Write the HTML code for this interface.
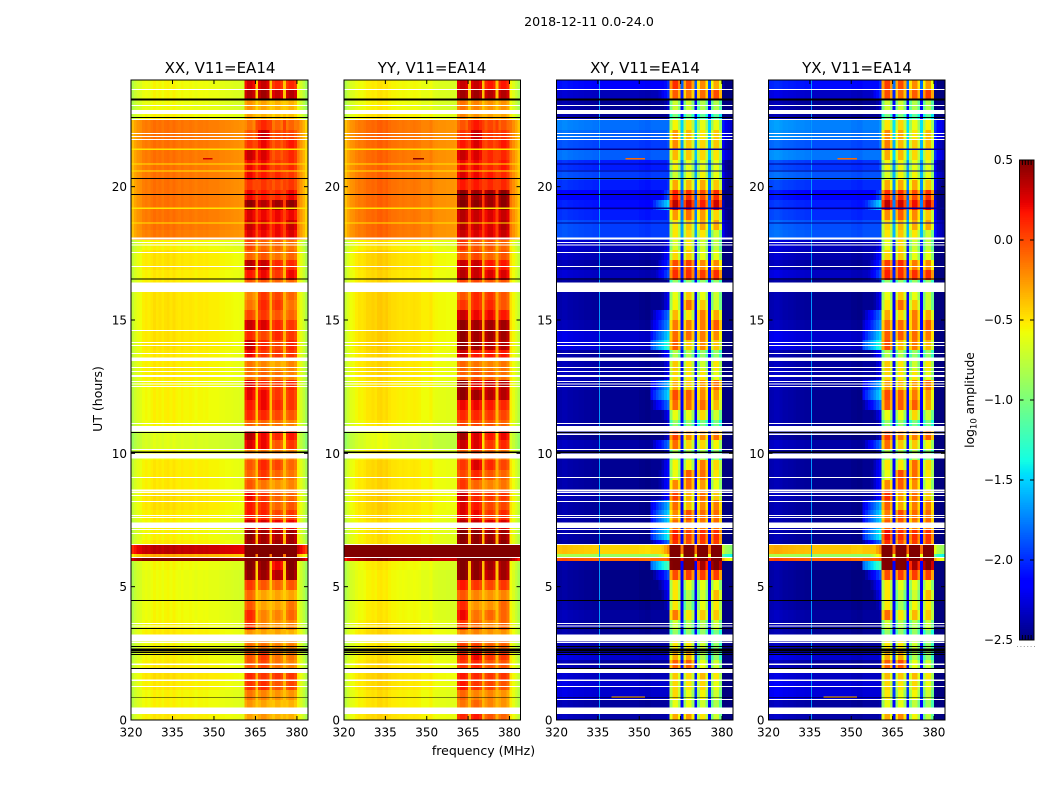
<!DOCTYPE html>
<html lang="en">
<head>
<meta charset="utf-8">
<title>2018-12-11 0.0-24.0</title>
<style>
html,body{margin:0;padding:0;background:#fff;}
svg{display:block;font-family:"DejaVu Sans","Liberation Sans",sans-serif;fill:#000;}
.cell,.cb{shape-rendering:crispEdges;}
</style>
</head>
<body>
<svg id="chart" width="1050" height="800" viewBox="0 0 1050 800" xmlns="http://www.w3.org/2000/svg">
  <rect width="1050" height="800" fill="#fff"/>
  <text x="589" y="26" text-anchor="middle" font-size="12.6">2018-12-11 0.0-24.0</text>
  <text x="220" y="73" text-anchor="middle" font-size="15">XX, V11=EA14</text>
  <text x="432" y="73" text-anchor="middle" font-size="15">YY, V11=EA14</text>
  <text x="645" y="73" text-anchor="middle" font-size="15">XY, V11=EA14</text>
  <text x="857" y="73" text-anchor="middle" font-size="15">YX, V11=EA14</text>
  <text x="483.5" y="755" text-anchor="middle" font-size="12.5">frequency (MHz)</text>
  <text transform="translate(102,399) rotate(-90)" text-anchor="middle" font-size="12.5">UT (hours)</text>
  <text transform="translate(974,400) rotate(-90)" text-anchor="middle" font-size="12.3">log<tspan font-size="8.5" dy="2.5">10</tspan><tspan dy="-2.5"> amplitude</tspan></text>
  <g id="panels"></g>
  <g id="colorbar"></g>
  <line x1="1017" x2="1035" y1="646.5" y2="646.5" stroke="#999" stroke-width="1" stroke-dasharray="1 2.4"/>
</svg>
<script>
// ---- axis data ----
const freqTicks = [320, 335, 350, 365, 380];
const hourTicks = [0, 5, 10, 15, 20];
const colorTicks = [0.5, 0, -0.5, -1, -1.5, -2, -2.5];
const colorTickLabels = ['0.5', '0.0', '\u22120.5', '\u22121.0', '\u22121.5', '\u22122.0', '\u22122.5'];
const colorMinorTicks = [1, 2, 3, 4];
const freqMin = 320, freqMax = 384, hourMin = 0, hourMax = 24, levelMin = -2.5, levelMax = 0.5;

// ---- time rows: start hour of each row ----
const rowStartHours = [0,.375,.75,1.125,1.5,1.875,2.25,2.625,3,3.375,3.75,4.125,4.5,4.875,5.25,5.625,5.96,6.11,6.225,6.6,
 6.75,7.125,7.5,7.875,8.25,8.625,9,9.375,9.75,10.125,10.5,10.875,11.25,11.625,12,12.375,12.75,13.125,13.5,13.875,
 14.25,14.625,15,15.375,15.75,16.125,16.5,16.875,17.25,17.625,18,18.375,18.75,19.125,19.5,19.875,20.25,20.625,21,21.375,
 21.75,22.125,22.5,22.875,23.25,23.625];

// ---- channel groups (1 MHz channels from 320): 0 continuum, 1-4 sub-band, 5 near-band edge ----
const channelGroup = [0,0,0,0,0,0,0,0,0,0,0,0,0,0,0,0,0,0,0,0,0,0,0,0,0,0,0,0,0,0,0,0,0,0,5,5,5,5,5,5,5,
 1,1,1,1,0,2,2,2,2,0,3,3,3,3,0,4,4,4,4,0,0,0,0];

// ---- per-channel offsets read from the bandpass ----
const xxShape = [-.2,-.12,-.07,-.05,0,.02,0,.03,.06,.03,.05,.02,.05,.06,.03,.06,.03,.02,.04,.02,.02,.03,.02,0,.02,.02,.01,.02,0,0,0,0,-.02,-.02,-.03,-.03,-.04,-.05,-.05,-.06,-.07,
 -.06,.02,.02,-.05,.18,-.05,.02,.02,-.05,.2,-.05,.02,.02,-.05,.2,-.05,.02,.02,-.06,.02,-.08,-.17,-.28];
const yyShape = [-.22,-.14,-.08,-.06,-.02,.01,0,.02,.05,.05,.07,.05,.09,.1,.07,.09,.05,.03,.03,.02,.01,.02,.01,0,.01,.02,.01,0,-.03,-.03,-.03,0,-.05,-.06,-.07,-.07,-.07,-.08,-.08,-.08,-.09,
 -.06,.02,.02,-.05,.2,-.05,.02,.02,-.05,.2,-.05,.02,.02,-.05,.2,-.05,.02,.02,-.06,.02,-.06,-.14,-.24];
const xyShape = [.06,.06,.08,.08,.06,.06,.05,.05,.04,.04,.03,.03,.03,.02,.02,0,0,0,0,0,0,0,0,0,0,0,0,0,0,0,-.02,-.02,-.03,-.03,-.6,-.5,-.4,-.3,-.2,-.1,0,
 -.32,0,0,-.28,.3,-.3,0,0,-.3,.3,-.3,0,0,-.3,.3,-.3,0,0,-.35,-.25,-.4,-.45,-.5];
const yxShape = [.07,.08,.1,.1,.08,.06,.06,.05,.05,.04,.03,.03,.03,.02,.02,0,0,0,0,0,0,0,0,0,0,0,0,0,0,0,-.02,-.02,-.03,-.03,-.6,-.5,-.4,-.3,-.2,-.1,0,
 -.32,0,0,-.28,.3,-.3,0,0,-.3,.3,-.3,0,0,-.3,.3,-.3,0,0,-.35,-.2,-.4,-.45,-.5];

// ---- XX levels per row ----
const xxCont = [-.55,-.58,-.58,-.55,-.52,-.55,-.58,-.6,-.55,-.58,
 -.6,-.6,-.62,-.62,-.62,-.6,.5,-.35,.3,-.55,
 -.58,-.58,-.55,-.52,-.52,-.55,-.55,-.55,-.6,-.68,
 -.68,-.6,-.58,-.58,-.58,-.58,-.55,-.55,-.55,-.53,
 -.53,-.53,-.53,-.53,-.53,-.55,-.55,-.53,-.53,-.58,
 -.19,-.17,-.17,-.17,-.17,-.17,-.17,-.17,-.17,-.17,
 -.17,-.17,-.58,-.62,-.6,-.6];
const xxBand1 = [-.3,-.25,-.15,.05,.1,-.05,-.05,-.15,-.25,.05,
 .1,-.05,-.1,.05,.45,.5,1,1,1,.4,
 .45,.3,.15,.15,.2,-.05,-.1,-.05,-.2,.25,
 .35,-.1,.1,.15,.22,.25,-.15,-.15,.2,.3,
 .1,.3,0,-.15,-.2,-.05,.15,.35,-.1,0,
 .25,.3,.25,.45,.2,.05,.2,.2,.3,.05,
 -.05,-.15,-.3,-.25,.35,.25];
const xxBand2 = [-.25,-.3,-.2,.08,.05,0,.05,-.15,-.3,-.2,
 -.2,-.3,-.3,-.05,.42,.45,1,1,1,.4,
 .4,.25,.12,.1,.05,-.15,.05,.1,-.15,.2,
 .2,-.1,.1,.2,.2,.1,-.1,-.2,.05,.1,
 0,.25,.05,.1,.05,-.05,.2,.3,-.05,-.1,
 .2,.25,.2,.35,.15,.05,.15,.2,.25,.2,
 .3,.1,-.35,-.3,.4,.3];
const xxBand3 = [-.35,-.35,-.25,-.05,.05,-.15,-.15,-.2,-.3,-.25,
 -.2,-.3,-.3,-.1,.35,.2,1,1,1,.4,
 .35,.2,0,-.1,-.1,-.25,-.1,0,-.2,-.05,
 .1,-.15,0,.1,.05,.05,-.15,-.3,.05,0,
 .1,.1,-.05,.05,0,-.1,.05,.1,-.15,-.1,
 .2,.2,.2,.4,.1,0,.1,.05,0,0,
 0,-.1,-.4,-.35,.3,.1];
const xxBand4 = [-.35,-.35,-.25,0,.05,-.2,-.15,-.2,-.35,-.2,
 -.1,-.15,-.3,-.05,.45,.5,1,1,1,.4,
 .4,.2,.05,-.05,-.1,-.2,-.15,-.1,-.2,.05,
 .15,-.2,-.05,.05,.05,.1,-.2,-.2,.05,.1,
 .05,.05,-.1,-.15,-.1,-.1,.2,.1,-.1,-.15,
 .25,.3,.2,.45,.2,.05,.05,.1,.1,.15,
 0,-.1,-.4,-.35,.35,.1];

// ---- YY levels per row ----
const yyCont = [-.52,-.55,-.55,-.52,-.5,-.52,-.55,-.58,-.52,-.55,
 -.58,-.58,-.6,-.6,-.6,-.58,.4,1,1,-.55,
 -.55,-.55,-.52,-.5,-.5,-.52,-.52,-.52,-.58,-.68,
 -.68,-.58,-.55,-.55,-.55,-.55,-.52,-.52,-.52,-.5,
 -.5,-.5,-.5,-.5,-.5,-.52,-.52,-.5,-.5,-.55,
 -.17,-.16,-.16,-.16,-.16,-.16,-.16,-.16,-.16,-.16,
 -.16,-.16,-.55,-.6,-.58,-.58];
const yyBand1 = [.1,-.15,-.1,.15,.15,.05,.1,0,-.2,.05,
 .2,.1,-.05,.15,.5,.5,1,1,1,.45,
 .5,.35,.25,.25,.3,.05,0,.05,-.1,.3,
 .4,0,.1,.2,.45,.45,-.1,-.1,.3,.45,
 .45,.45,.3,.05,-.05,0,.35,.3,-.05,.05,
 .3,.35,.35,.5,.45,.15,.25,.2,.3,.15,
 .05,-.05,-.2,-.15,.4,.3];
const yyBand2 = [.15,-.1,-.2,.05,.1,.1,.2,0,-.2,-.1,
 -.15,-.25,-.2,.05,.45,.45,1,1,1,.45,
 .45,.3,.2,.15,.1,-.1,.1,.25,0,.25,
 .25,0,.1,.2,.4,.25,-.05,-.15,.15,.4,
 .4,.4,.2,.1,.1,0,.3,.3,0,-.05,
 .25,.3,.3,.45,.4,.15,.2,.2,.25,.25,
 .3,.15,-.25,-.2,.4,.3];
const yyBand3 = [-.05,-.2,-.2,0,.05,-.05,.05,-.1,-.25,-.2,
 -.1,-.25,-.25,0,.35,.4,1,1,1,.45,
 .4,.25,.05,0,.05,-.2,-.05,.1,-.1,.05,
 .15,-.05,.05,.15,.35,.3,-.1,-.2,.15,.35,
 .4,.4,.2,.1,.05,-.05,.25,.15,-.1,-.05,
 .25,.25,.25,.4,.4,.1,.15,.1,.1,.05,
 .05,0,-.3,-.25,.35,.15];
const yyBand4 = [-.1,-.25,-.25,-.05,.05,-.05,.05,-.1,-.25,-.1,
 -.1,-.1,-.2,.05,.4,.4,1,1,1,.45,
 .4,.25,.1,0,.05,-.15,-.1,0,-.15,.1,
 .2,-.1,0,.1,.35,.35,-.15,-.15,.15,.35,
 .4,.4,.15,-.05,-.05,-.05,.25,.15,-.05,-.1,
 .3,.35,.3,.45,.45,.1,.1,.15,.1,.15,
 .05,-.05,-.3,-.25,.35,.15];

// ---- XY levels per row ----
const xyCont = [-2.4,-2.42,-2.3,-2.3,-2.35,-2.42,-2.3,-2.42,-2.45,-2.45,
 -2.42,-2.45,-2.48,-2.48,-2.48,-2.45,-.1,-.9,-.45,-2.48,
 -2.45,-2.45,-2.45,-2.45,-2.42,-2.45,-2.45,-2.45,-2.48,-2.4,
 -2.48,-2.45,-2.45,-2.45,-2.45,-2.42,-2.4,-2.42,-2.45,-2.3,
 -2.3,-2.42,-2.45,-2.45,-2.45,-2.48,-2.35,-2.42,-2.38,-2.35,
 -1.95,-1.95,-2.05,-2.1,-2.2,-2.05,-1.95,-2.05,-1.85,-1.95,
 -1.85,-1.8,-2.45,-2.45,-2.35,-2.15];
const xyEdge = [-2.35,-2.4,-2.3,-2.3,-2.35,-2.4,-2.25,-2.4,-2.45,-2.45,
 -2.4,-2.3,-2.2,-2.1,-1.9,-1.2,-.05,-.5,-.2,-1.8,
 -1.4,-1.5,-1.5,-1.6,-2.1,-2.1,-2.1,-2.15,-2.3,-1.8,
 -2.3,-2.3,-2.2,-1.8,-1.5,-1.6,-2.2,-2.2,-2.1,-1.3,
 -1.5,-1.7,-1.8,-2.2,-2.2,-2.4,-1.9,-2,-2.1,-2.2,
 -2.1,-2,-2,-1.5,-1.9,-2,-2,-2,-1.9,-1.9,
 -1.8,-1.8,-2.4,-2.3,-2,-2];
const xyBand1 = [-.3,-.6,-.45,-.45,-.4,-.05,-.3,-.5,-.9,-.7,
 -.15,-.5,-.5,-.5,0,.8,1.3,1.3,1.3,.1,
 .15,-.1,-.2,-.1,.05,-.2,-.6,-.55,-.8,-.1,
 .05,-.9,-.6,-.1,0,-.3,-.45,-.4,-.8,-.05,
 -.1,-.15,-.35,-.55,-.6,-.9,.1,0,-.45,-.65,
 -.5,-.5,-.25,.35,.15,-.3,-.7,-.55,-.35,-.2,
 -.25,-.55,-1,-.7,-.05,.1];
const xyBand2 = [-.25,-.6,-.6,-.5,-.45,-.05,-.3,-.5,-.9,-.8,
 -.5,-.85,-.8,-.6,.05,.8,1.3,1.3,1.3,0,
 .05,-.1,0,-.35,-.3,-.1,-.05,-.55,-.8,-.45,
 -.2,-.9,-.6,-.1,-.05,-.4,-.5,-.5,-.8,-.4,
 -.1,-.15,-.5,-.1,-.4,-.9,.1,.05,-.4,-.5,
 -.45,-.4,-.1,.3,.1,-.35,-.6,-.6,-.4,-.4,
 -.35,-.5,-1,-.7,-.15,0];
const xyBand3 = [-.5,-.7,-.55,-.45,-.35,-.6,-.8,-.7,-.9,-.8,
 -.4,-.6,-.7,-.6,.05,.4,1.3,1.3,1.3,.05,
 .1,-.15,-.1,-.2,-.1,-.25,-.1,-.15,-.8,-.45,
 -.2,-1,-.45,-.1,-.2,-.25,-.5,-.7,-.9,-.2,
 -.15,-.15,-.15,-.4,-.6,-.9,.05,-.2,-.6,-.7,
 -.5,-.3,-.25,.15,0,-.3,-.55,-.6,-.45,-.45,
 -.5,-.6,-1.1,-.8,-.1,-.2];
const xyBand4 = [-.7,-.8,-.7,-.6,-.5,-.7,-.9,-.9,-1,-.7,
 -.4,-.5,-.35,-.6,.05,.7,1.3,1.3,1.3,.05,
 .1,-.1,-.1,-.15,-.4,-.6,-.5,-.45,-.9,-.55,
 -.1,-1,-.7,-.35,-.25,-.1,-.6,-.5,-.9,-.4,
 -.2,-.05,-.3,-.7,-.7,-.9,.1,-.2,-.6,-.75,
 -.7,-.3,-.45,.3,.1,-.4,-.6,-.6,-.5,-.4,
 -.4,-.6,-1.1,-.8,0,-.3];

// ---- YX levels per row ----
const yxCont = [-2.4,-2.42,-2.27,-2.27,-2.33,-2.42,-2.3,-2.42,-2.45,-2.45,
 -2.42,-2.45,-2.48,-2.48,-2.48,-2.45,-.1,-.9,-.4,-2.48,
 -2.45,-2.45,-2.45,-2.45,-2.42,-2.45,-2.45,-2.45,-2.48,-2.4,
 -2.48,-2.45,-2.45,-2.45,-2.45,-2.42,-2.4,-2.42,-2.45,-2.3,
 -2.3,-2.42,-2.45,-2.45,-2.45,-2.48,-2.33,-2.42,-2.38,-2.35,
 -1.88,-1.9,-2,-2.05,-2.15,-2,-1.88,-1.98,-1.78,-1.9,
 -1.78,-1.75,-2.45,-2.45,-2.32,-2.1];
const yxEdge = [-2.35,-2.4,-2.3,-2.3,-2.35,-2.4,-2.25,-2.4,-2.45,-2.45,
 -2.4,-2.3,-2.2,-2.1,-1.9,-1.2,-.05,-.5,-.2,-1.8,
 -1.4,-1.5,-1.5,-1.6,-2.1,-2.1,-2.1,-2.15,-2.3,-1.8,
 -2.3,-2.3,-2.2,-1.8,-1.5,-1.6,-2.2,-2.2,-2.1,-1.3,
 -1.5,-1.7,-1.8,-2.2,-2.2,-2.4,-1.9,-2,-2.1,-2.2,
 -2.05,-2,-2,-1.5,-1.9,-2,-1.9,-1.9,-1.8,-1.8,
 -1.7,-1.7,-2.4,-2.3,-2,-2];
const yxBand1 = [-.3,-.6,-.5,-.45,-.35,-.05,-.3,-.5,-.9,-.7,
 -.1,-.5,-.5,-.5,0,.8,1.3,1.3,1.3,.1,
 .2,-.05,-.15,-.05,.1,-.2,-.6,-.5,-.8,-.1,
 .05,-.9,-.6,-.05,0,-.25,-.45,-.4,-.8,0,
 -.05,-.1,-.3,-.5,-.6,-.9,.15,.05,-.45,-.6,
 -.5,-.45,-.2,.35,.1,-.3,-.65,-.55,-.3,-.15,
 -.2,-.5,-1,-.7,0,.05];
const yxBand2 = [-.2,-.6,-.6,-.5,-.4,0,-.3,-.5,-.9,-.8,
 -.5,-.85,-.75,-.6,.05,.8,1.3,1.3,1.3,0,
 .1,-.05,0,-.3,-.25,-.05,0,-.5,-.8,-.4,
 -.15,-.9,-.6,-.05,-.05,-.35,-.5,-.5,-.8,-.35,
 -.05,-.1,-.45,-.1,-.4,-.9,.1,.1,-.4,-.45,
 -.4,-.35,-.05,.3,.1,-.3,-.55,-.55,-.35,-.35,
 -.3,-.45,-1,-.7,-.1,0];
const yxBand3 = [-.55,-.75,-.55,-.45,-.35,-.6,-.8,-.7,-.9,-.8,
 -.35,-.55,-.7,-.6,.05,.4,1.3,1.3,1.3,.05,
 .1,-.15,-.1,-.15,-.1,-.2,-.1,-.1,-.8,-.4,
 -.15,-1,-.45,-.05,-.15,-.25,-.5,-.7,-.9,-.15,
 -.1,-.15,-.15,-.4,-.6,-.9,.1,-.15,-.6,-.7,
 -.5,-.3,-.2,.2,0,-.3,-.55,-.6,-.45,-.4,
 -.5,-.6,-1.1,-.8,-.05,-.2];
const yxBand4 = [-.75,-.85,-.7,-.6,-.5,-.7,-.9,-.9,-1,-.7,
 -.4,-.5,-.35,-.6,.05,.65,1.3,1.3,1.3,.05,
 .1,-.1,-.1,-.15,-.4,-.6,-.5,-.45,-.9,-.55,
 -.05,-1,-.7,-.3,-.25,-.1,-.6,-.5,-.9,-.35,
 -.15,-.05,-.3,-.7,-.7,-.9,.1,-.2,-.6,-.75,
 -.7,-.3,-.4,.3,.1,-.4,-.6,-.6,-.5,-.35,
 -.35,-.55,-1.1,-.8,.05,-.25];

// ---- flagged data (hours) ----
const whiteGapHours = [[.225,.476],[1.245,1.283],[1.47,1.51],[1.763,1.939],[2.07,2.11],[2.895,2.935],[2.963,3.214],[3.505,3.545],[3.606,3.646],
 [6.066,6.106],[6.569,6.609],[6.98,7.02],[7.131,7.171],[7.2,7.399],[7.58,7.62],[7.65,7.69],[8.166,8.206],[8.406,8.446],[8.504,8.544],[8.576,8.651],[9.081,9.121],
 [9.814,10],[10.131,10.171],[10.811,11.025],[11.091,11.131],[12.494,12.534],[12.58,12.62],[12.666,12.706],[12.86,12.94],[13.056,13.096],[13.206,13.246],
 [13.46,13.6],[13.731,13.771],[14.03,14.07],[14.144,14.184],[14.594,14.634],[16.05,16.41],[16.994,17.034],[17.519,17.559],[17.79,17.83],[17.894,17.934],
 [18.026,18.1],[21.756,21.796],[21.869,21.909],[21.98,22.02],[22.506,22.546],[22.725,22.875],[23.016,23.056],[23.616,23.656]];
const crossGapHours = [[.756,.796],[10.69,10.75]];
const blackFlagHours = [[.84,.87],[1.92,1.958],[2.445,2.483],[2.52,2.558],[2.575,2.675],[2.73,2.768],[3.42,3.458],[4.47,4.508],[10.01,10.07],[10.755,10.795],
 [16.52,16.56],[19.695,19.733],[20.295,20.333],[22.58,22.62],[23.23,23.3]];
const thinFlagHours = [19.19,18.64,20.59,20.85,21.4];
const coPolFlagLevel = -.5;
const crossFlagLevel = -2.45;
const spurMHz = [335.6];
const spurLevels = [-1.68];
const xxStreaks = [[346,349.5,21.05,.3]];
const yyStreaks = [[345,349,21.05,.5],[320,323,20.85,.2]];
const xyStreaks = [[345,352,21.05,-.1],[320,323,20.85,.1],[340,352,.85,-.3]];
const yxStreaks = [[345,352,21.05,-.1],[320,323,20.85,.1],[340,352,.85,-.3]];

// ---- panel list ----
const panels = [
 {id:'xx', left:131, width:177, cont:xxCont, edge:xxCont, bands:[xxBand1,xxBand2,xxBand3,xxBand4], shape:xxShape, streaks:xxStreaks, cross:false},
 {id:'yy', left:344, width:176.5, cont:yyCont, edge:yyCont, bands:[yyBand1,yyBand2,yyBand3,yyBand4], shape:yyShape, streaks:yyStreaks, cross:false},
 {id:'xy', left:556.5, width:176.5, cont:xyCont, edge:xyEdge, bands:[xyBand1,xyBand2,xyBand3,xyBand4], shape:xyShape, streaks:xyStreaks, cross:true},
 {id:'yx', left:768.5, width:176.5, cont:yxCont, edge:yxEdge, bands:[yxBand1,yxBand2,yxBand3,yxBand4], shape:yxShape, streaks:yxStreaks, cross:true}
];
const plotTop = 80, plotBottom = 720;
const NS = 'http://www.w3.org/2000/svg';

function jetChannel(pts, n){
  for (let i = 1; i < pts.length; i++) {
    if (n <= pts[i][0]) {
      const a = pts[i-1], b = pts[i];
      return a[1] + (b[1]-a[1]) * (n-a[0]) / (b[0]-a[0]);
    }
  }
  return pts[pts.length-1][1];
}
const jetR = [[0,0],[.35,0],[.66,1],[.89,1],[1,.5]];
const jetG = [[0,0],[.125,0],[.375,1],[.64,1],[.91,0],[1,0]];
const jetB = [[0,.5],[.11,1],[.34,1],[.65,0],[1,0]];
function colorOf(level){
  const n = Math.max(0, Math.min(1, (level-levelMin)/(levelMax-levelMin)));
  const c = p => Math.round(255*jetChannel(p, n));
  return 'rgb('+c(jetR)+','+c(jetG)+','+c(jetB)+')';
}
function yScale(h){ return plotBottom - (h-hourMin)*(plotBottom-plotTop)/(hourMax-hourMin); }
function xScaleFor(p){ return mhz => p.left + (mhz-freqMin)*p.width/(freqMax-freqMin); }
function mk(tag, attrs, parent){
  const el = document.createElementNS(NS, tag);
  for (const k in attrs) el.setAttribute(k, attrs[k]);
  parent.appendChild(el);
  return el;
}
function cellLevel(p, row, ch){
  const g = channelGroup[ch];
  if (g === 5) {
    return p.cross ? Math.max(p.cont[row], p.edge[row] + p.shape[ch]) : p.cont[row] + p.shape[ch];
  }
  const base = g === 0 ? p.cont[row] : p.bands[g-1][row];
  return base + p.shape[ch];
}

const root = document.getElementById('panels');
panels.forEach(p => {
  const x = xScaleFor(p);
  const g = mk('g', {}, root);
  
  

  const cells = mk('g', {'class':'cell'}, g);
  
  
  rowStartHours.forEach((start, row) => {
    const end = row + 1 < rowStartHours.length ? rowStartHours[row+1] : hourMax;
    const y0 = yScale(end), y1 = yScale(start);
    for (let ch = 0; ch < channelGroup.length; ch++) {
      const x0 = x(freqMin+ch), x1 = x(freqMin+ch+1);
      const cell = mk('rect', {x:x0, y:y0, width:x1-x0, height:y1-y0, fill:colorOf(cellLevel(p,row,ch))}, cells);
      
      
    }
  });

  if (p.cross) {
    spurMHz.forEach((mhz, i) => {
      const spur = mk('rect', {'class':'cell', x:x(mhz)-.6, y:plotTop, width:1.2, height:plotBottom-plotTop, fill:colorOf(spurLevels[i])}, g);
      
      
    });
  }
  p.streaks.forEach(s => {
    const st = mk('rect', {'class':'cell', x:x(s[0]), y:yScale(s[2])-.7, width:x(s[1])-x(s[0]), height:1.4, fill:colorOf(s[3])}, g);
    
    
  });
  thinFlagHours.forEach(h => {
    const t = mk('rect', {'class':'cell', x:p.left, y:yScale(h)-.6, width:p.width, height:1.2, fill:colorOf(p.cross ? crossFlagLevel : coPolFlagLevel)}, g);
    
    
  });
  whiteGapHours.concat(p.cross ? crossGapHours : []).forEach(r => {
    const w = mk('rect', {'class':'cell', x:p.left, y:yScale(r[1]), width:p.width, height:yScale(r[0])-yScale(r[1]), fill:'#fff'}, g);
    
    
  });
  blackFlagHours.forEach(r => {
    const b = mk('rect', {'class':'cell', x:p.left, y:yScale(r[1]), width:p.width, height:yScale(r[0])-yScale(r[1]), fill:'#000'}, g);
    
    
  });

  const frame = mk('rect', {x:p.left, y:plotTop, width:p.width, height:plotBottom-plotTop, fill:'none', stroke:'#000', 'stroke-width':1}, g);
  
  

  freqTicks.forEach(f => {
    const tx = x(f);
    [[plotBottom, plotBottom-4],[plotTop, plotTop+4]].forEach(e => {
      const t = mk('line', {x1:tx, x2:tx, y1:e[0], y2:e[1], stroke:'#000', 'stroke-width':1}, g);
      
      
    });
    const lab = mk('text', {x:tx, y:plotBottom+16.5, 'text-anchor':'middle', 'font-size':12}, g);
    
    
    lab.textContent = f;
  });
  hourTicks.forEach(h => {
    const ty = yScale(h);
    [[p.left, p.left+4],[p.left+p.width, p.left+p.width-4]].forEach(e => {
      const t = mk('line', {x1:e[0], x2:e[1], y1:ty, y2:ty, stroke:'#000', 'stroke-width':1}, g);
      
      
    });
    const lab = mk('text', {x:p.left-4, y:ty+4.5, 'text-anchor':'end', 'font-size':12}, g);
    
    
    lab.textContent = h;
  });
});

// ---- colorbar ----
const cbar = document.getElementById('colorbar');
const cbLeft = 1019.5, cbRight = 1034, cbTop = 160, cbBottom = 640;
function cbY(v){ return cbBottom - (v-levelMin)*(cbBottom-cbTop)/(levelMax-levelMin); }
for (let i = 0; i < 256; i++) {
  const v0 = levelMin + i*(levelMax-levelMin)/256, v1 = levelMin + (i+1)*(levelMax-levelMin)/256;
  const seg = mk('rect', {'class':'cb', x:cbLeft, y:cbY(v1), width:cbRight-cbLeft, height:cbY(v0)-cbY(v1), fill:colorOf((v0+v1)/2)}, cbar);
  
  
}
const cbFrame = mk('rect', {x:cbLeft, y:cbTop, width:cbRight-cbLeft, height:cbBottom-cbTop, fill:'none', stroke:'#000', 'stroke-width':1}, cbar);


colorTicks.forEach((v, i) => {
  const y = cbY(v);
  [[cbLeft, cbLeft+4],[cbRight, cbRight-4]].forEach(e => {
    const t = mk('line', {x1:e[0], x2:e[1], y1:y, y2:y, stroke:'#000', 'stroke-width':1}, cbar);
    
    
  });
  const lab = mk('text', {x:1013, y:y+4, 'text-anchor':'end', 'font-size':12}, cbar);
  
  
  lab.textContent = colorTickLabels[i];
});
colorMinorTicks.forEach(k => {
  const mx = cbLeft + k*(cbRight-cbLeft)/5;
  [[cbTop, cbTop+5],[cbBottom, cbBottom-5]].forEach(e => {
    const t = mk('line', {x1:mx, x2:mx, y1:e[0], y2:e[1], stroke:'#000', 'stroke-width':1}, cbar);
    
    
  });
});
</script>
</body>
</html>
